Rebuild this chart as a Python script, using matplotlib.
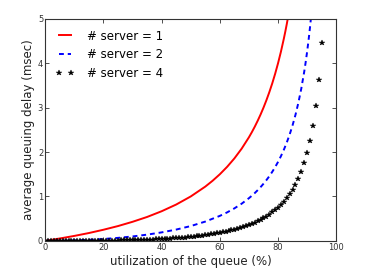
import numpy as np
import matplotlib
matplotlib.use("Agg")
import matplotlib.pyplot as plt

# readings taken off the reference chart
util_s1 = [0, 5, 10, 15, 20, 25, 30, 35, 40, 45, 50, 55, 57.5, 60, 62.5, 65, 67.5, 70, 71, 72,
           73, 74, 75, 76, 77, 78, 79, 80, 81, 82, 82.5, 83, 83.5, 84]
delay_s1 = [0, 0.053, 0.111, 0.176, 0.25, 0.333, 0.429, 0.538, 0.667, 0.818, 1.0, 1.222, 1.353,
            1.5, 1.667, 1.857, 2.077, 2.333, 2.448, 2.571, 2.704, 2.846, 3.0, 3.167, 3.348,
            3.545, 3.762, 4.0, 4.263, 4.556, 4.714, 4.882, 5.06, 5.25]

util_s2 = [0, 5, 10, 15, 20, 25, 30, 35, 40, 45, 50, 55, 60, 62.5, 65, 67.5, 70, 71, 72, 73,
           74, 75, 76, 77, 78, 79, 80, 81, 82, 83, 84, 85, 86, 87, 88, 89, 89.5, 90, 90.5,
           91, 91.5, 92]
delay_s2 = [0, 0.0025, 0.0101, 0.023, 0.0417, 0.0667, 0.0989, 0.1396, 0.1905, 0.2539, 0.333,
            0.4339, 0.5625, 0.641, 0.7316, 0.837, 0.9608, 1.0165, 1.0764, 1.141, 1.2104,
            1.286, 1.3674, 1.456, 1.5536, 1.660, 1.7778, 1.908, 2.0525, 2.214, 2.3967,
            2.6036, 2.840, 3.1136, 3.433, 3.810, 4.025, 4.263, 4.525, 4.817, 5.143, 5.51]

util_s4 = list(range(0, 96))
delay_s4 = [0, 0, 0, 0, 0, 0, 0, 0, 0, 0,
            0.0001, 0.0001, 0.0002, 0.0003, 0.0005, 0.001, 0.001, 0.001, 0.002, 0.002,
            0.003, 0.0035, 0.004, 0.005, 0.006, 0.007, 0.008, 0.009, 0.010, 0.012,
            0.013, 0.015, 0.017, 0.019, 0.021, 0.023, 0.026, 0.028, 0.031, 0.034,
            0.038, 0.041, 0.045, 0.049, 0.053, 0.058, 0.063, 0.069, 0.074, 0.081,
            0.087, 0.094, 0.101, 0.109, 0.117, 0.126, 0.135, 0.145, 0.156, 0.167,
            0.179, 0.192, 0.206, 0.222, 0.237, 0.253, 0.27, 0.29, 0.31, 0.333,
            0.357, 0.385, 0.413, 0.443, 0.475, 0.509, 0.548, 0.59, 0.64, 0.69,
            0.7455, 0.81, 0.879, 0.958, 1.047, 1.149, 1.265, 1.40, 1.558, 1.745,
            1.969, 2.245, 2.589, 3.034, 3.626, 4.457]

labels = ["# server = 1", "# server = 2", "# server = 4"]

fig = plt.figure(figsize=(3.74, 2.70), dpi=100)
ax = fig.add_axes([0.121, 0.108, 0.778, 0.822])

ax.plot(util_s1, delay_s1, color="#ff0000", lw=1.4, label=labels[0])
ax.plot(util_s2, delay_s2, color="#0000ff", lw=1.4, ls=(0, (2.5, 2)), label=labels[1])
ax.plot(util_s4, delay_s4, "k*", ms=4, markeredgewidth=0.3, label=labels[2])

ax.set_xlim(0, 100)
ax.set_ylim(0, 5)
ax.set_xticks([0, 20, 40, 60, 80, 100])
ax.set_yticks([0, 1, 2, 3, 4, 5])
ax.tick_params(direction="in", length=3, width=0.6, labelsize=6, top=True, right=True,
               colors="#333333", pad=1.5)
for sp in ax.spines.values():
    sp.set_linewidth(0.8)
    sp.set_color("#333333")

ax.set_xlabel("utilization of the queue (%)", fontsize=8.5, color="#222222", labelpad=2)
ax.set_ylabel("average queuing delay (msec)", fontsize=8.5, color="#222222", labelpad=2)

ax.legend(loc="upper left", frameon=False, fontsize=8.5, numpoints=2, handlelength=1.6,
          handletextpad=1.0, labelspacing=0.5, borderaxespad=0.5)

fig.savefig("out.png", dpi=100)
